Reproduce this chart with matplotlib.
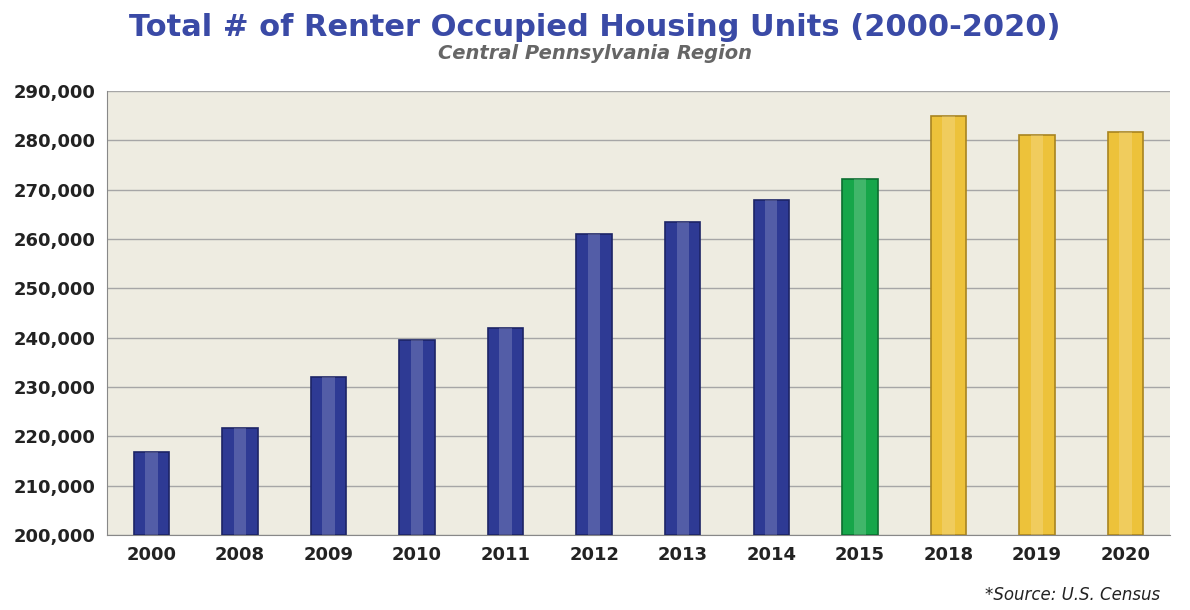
import matplotlib.pyplot as plt
import numpy as np
from matplotlib.ticker import FuncFormatter

years = ['2000', '2008', '2009', '2010', '2011', '2012', '2013', '2014', '2015', '2018', '2019', '2020']
units = [216800, 221700, 232000, 239500, 242000, 261000, 263400, 267900, 272200, 284900, 281100, 281700]
colors = ['#2E3A94'] * 8 + ['#16A64A'] + ['#EDC23A'] * 3
dark = ['#1C2466'] * 8 + ['#0C6E30'] + ['#A88420'] * 3

fig = plt.figure(figsize=(11.9, 6.1), dpi=100)
ax = fig.add_axes([0.09, 0.123, 0.893, 0.728])
ax.set_facecolor('#EEECE1')

x = np.arange(len(years))
ax.bar(x, [u - 200000 for u in units], bottom=200000, width=0.4,
       color=colors, edgecolor=dark, linewidth=1.2, zorder=3)
# lighter center strip for a bit of shading
ax.bar(x, [u - 200000 for u in units], bottom=200000, width=0.14,
       color='white', alpha=0.18, linewidth=0, zorder=4)

ax.set_ylim(200000, 290000)
ax.set_xlim(-0.5, len(years) - 0.5)
ax.set_yticks(range(200000, 290001, 10000))
ax.yaxis.set_major_formatter(FuncFormatter(lambda v, p: f'{int(v):,}'))
ax.set_xticks(x)
ax.set_xticklabels(years)
ax.grid(axis='y', color='#A6A6A6', linewidth=1, zorder=0)
for s in ['top', 'right']:
    ax.spines[s].set_visible(False)
ax.spines['left'].set_color('#888888')
ax.spines['bottom'].set_color('#888888')
ax.tick_params(length=0, pad=8)
for lab in ax.get_xticklabels() + ax.get_yticklabels():
    lab.set_fontweight('bold')
    lab.set_fontsize(13)
    lab.set_color('#222222')

fig.text(0.5, 0.955, 'Total # of Renter Occupied Housing Units (2000-2020)',
         ha='center', va='center', fontsize=22, fontweight='bold', color='#3A4AA6')
fig.text(0.5, 0.912, 'Central Pennsylvania Region', ha='center', va='center',
         fontsize=14, fontweight='bold', style='italic', color='#666666')
fig.text(0.975, 0.025, '*Source: U.S. Census', ha='right', va='center',
         fontsize=12, style='italic', color='#222222')

fig.savefig('out.png')
